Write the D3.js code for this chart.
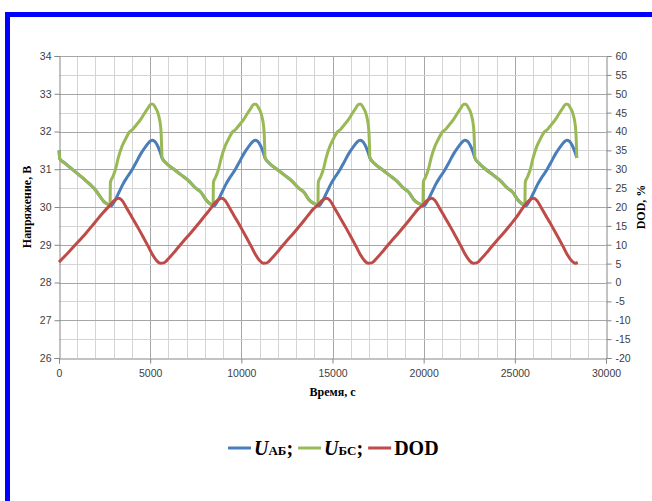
<!DOCTYPE html>
<html>
<head>
<meta charset="utf-8">
<script src="https://cdn.jsdelivr.net/npm/d3@7"></script>
<style>
  body { margin: 0; background: #fff; }
  svg { display: block; }
</style>
</head>
<body>
<div id="chart"></div>
<script>
// Battery voltage / DOD cycling chart

// x ticks (time, s) and the two y ranges
var timeTicks = [0, 5000, 10000, 15000, 20000, 25000, 30000];
var voltTicks = [26, 27, 28, 29, 30, 31, 32, 33, 34];
var dodTicks = [-20, -15, -10, -5, 0, 5, 10, 15, 20, 25, 30, 35, 40, 45, 50, 55, 60];

// U_БС (green) [time, volts]
var uBC = [
  [0, 31.5], [50, 31.27], [300, 31.17], [800, 30.97], [1300, 30.77], [1700, 30.6], [2000, 30.45], [2250, 30.28], [2450, 30.15], [2650, 30.08], [2800, 30.05],
  [2820, 30.65], [2950, 30.8], [3100, 31.0], [3250, 31.3], [3450, 31.6], [3650, 31.8], [3850, 31.98], [4050, 32.06], [4250, 32.18], [4450, 32.3], [4650, 32.45], [4850, 32.6], [5050, 32.72], [5150, 32.72], [5300, 32.62], [5450, 32.45], [5580, 32.1], [5630, 31.6], [5650, 31.3],
  [5900, 31.15], [6300, 31.0], [6700, 30.85], [7100, 30.7], [7500, 30.5], [7800, 30.38], [8050, 30.2], [8250, 30.1], [8450, 30.05],
  [8470, 30.65], [8600, 30.8], [8750, 31.0], [8900, 31.3], [9100, 31.6], [9300, 31.8], [9500, 31.98], [9700, 32.06], [9900, 32.18], [10100, 32.3], [10300, 32.45], [10500, 32.6], [10700, 32.72], [10800, 32.72], [10950, 32.62], [11100, 32.45], [11230, 32.1], [11280, 31.6], [11300, 31.3],
  [11550, 31.15], [11950, 31.0], [12350, 30.85], [12750, 30.7], [13150, 30.5], [13450, 30.38], [13700, 30.2], [13950, 30.1], [14200, 30.05],
  [14220, 30.65], [14350, 30.8], [14500, 31.0], [14650, 31.3], [14850, 31.6], [15050, 31.8], [15250, 31.98], [15450, 32.06], [15650, 32.18], [15850, 32.3], [16050, 32.45], [16250, 32.6], [16450, 32.72], [16550, 32.72], [16700, 32.62], [16850, 32.45], [16980, 32.1], [17030, 31.6], [17050, 31.3],
  [17300, 31.15], [17700, 31.0], [18100, 30.85], [18500, 30.7], [18900, 30.5], [19200, 30.38], [19450, 30.2], [19700, 30.1], [19960, 30.05],
  [19980, 30.65], [20110, 30.8], [20260, 31.0], [20410, 31.3], [20610, 31.6], [20810, 31.8], [21010, 31.98], [21210, 32.06], [21410, 32.18], [21610, 32.3], [21810, 32.45], [22010, 32.6], [22210, 32.72], [22310, 32.72], [22460, 32.62], [22610, 32.45], [22740, 32.1], [22790, 31.6], [22810, 31.3],
  [23050, 31.15], [23400, 31.0], [23800, 30.85], [24200, 30.7], [24600, 30.5], [24900, 30.38], [25150, 30.2], [25350, 30.1], [25550, 30.05],
  [25570, 30.65], [25700, 30.8], [25850, 31.0], [26000, 31.3], [26200, 31.6], [26400, 31.8], [26600, 31.98], [26800, 32.06], [27000, 32.18], [27200, 32.3], [27400, 32.45], [27600, 32.6], [27800, 32.72], [27900, 32.72], [28050, 32.62], [28200, 32.45], [28330, 32.1], [28380, 31.6], [28400, 31.3]
];

// U_АБ (blue) [time, volts]; during discharge it sits under the green line
var uAB = [
  [0, 31.5], [50, 31.27], [300, 31.17], [800, 30.97], [1300, 30.77], [1700, 30.6], [2000, 30.45], [2250, 30.28], [2450, 30.15], [2650, 30.08], [2800, 30.05],
  [2860, 30.03], [2950, 30.08], [3100, 30.2], [3300, 30.4], [3500, 30.6], [3750, 30.8], [4000, 30.98], [4250, 31.2], [4500, 31.42], [4750, 31.6], [4950, 31.72], [5100, 31.77], [5250, 31.74], [5400, 31.63], [5550, 31.45], [5650, 31.3],
  [5900, 31.15], [6300, 31.0], [6700, 30.85], [7100, 30.7], [7500, 30.5], [7800, 30.38], [8050, 30.2], [8250, 30.1], [8450, 30.05],
  [8510, 30.03], [8600, 30.08], [8750, 30.2], [8950, 30.4], [9150, 30.6], [9400, 30.8], [9650, 30.98], [9900, 31.2], [10150, 31.42], [10400, 31.6], [10600, 31.72], [10750, 31.77], [10900, 31.74], [11050, 31.63], [11200, 31.45], [11300, 31.3],
  [11550, 31.15], [11950, 31.0], [12350, 30.85], [12750, 30.7], [13150, 30.5], [13450, 30.38], [13700, 30.2], [13950, 30.1], [14200, 30.05],
  [14260, 30.03], [14350, 30.08], [14500, 30.2], [14700, 30.4], [14900, 30.6], [15150, 30.8], [15400, 30.98], [15650, 31.2], [15900, 31.42], [16150, 31.6], [16350, 31.72], [16500, 31.77], [16650, 31.74], [16800, 31.63], [16950, 31.45], [17050, 31.3],
  [17300, 31.15], [17700, 31.0], [18100, 30.85], [18500, 30.7], [18900, 30.5], [19200, 30.38], [19450, 30.2], [19700, 30.1], [19960, 30.05],
  [20020, 30.03], [20110, 30.08], [20260, 30.2], [20460, 30.4], [20660, 30.6], [20910, 30.8], [21160, 30.98], [21410, 31.2], [21660, 31.42], [21910, 31.6], [22110, 31.72], [22260, 31.77], [22410, 31.74], [22560, 31.63], [22710, 31.45], [22810, 31.3],
  [23050, 31.15], [23400, 31.0], [23800, 30.85], [24200, 30.7], [24600, 30.5], [24900, 30.38], [25150, 30.2], [25350, 30.1], [25550, 30.05],
  [25610, 30.03], [25700, 30.08], [25850, 30.2], [26050, 30.4], [26250, 30.6], [26500, 30.8], [26750, 30.98], [27000, 31.2], [27250, 31.42], [27500, 31.6], [27700, 31.72], [27850, 31.77], [28000, 31.74], [28150, 31.63], [28300, 31.45], [28400, 31.3]
];

// DOD (red) [time, %]
var dod = [
  [0, 5.4], [500, 7.9], [1000, 10.5], [1500, 13.2], [2000, 16.1], [2400, 18.4], [2800, 20.5],
  [3050, 21.8], [3250, 22.3], [3450, 21.8], [3700, 19.8], [4000, 17.3], [4300, 14.8], [4600, 12.2], [4900, 9.5], [5150, 7.2], [5350, 5.8], [5550, 5.1], [5750, 5.2], [6000, 6.3], [6400, 8.5], [6800, 10.8], [7200, 13.0], [7600, 15.3], [8000, 17.7], [8300, 19.5], [8450, 20.5],
  [8700, 21.8], [8900, 22.3], [9100, 21.8], [9350, 19.8], [9650, 17.3], [9950, 14.8], [10250, 12.2], [10550, 9.5], [10800, 7.2], [11000, 5.8], [11200, 5.1], [11400, 5.2], [11650, 6.3], [12050, 8.5], [12450, 10.8], [12850, 13.0], [13250, 15.3], [13650, 17.7], [13950, 19.5], [14200, 20.5],
  [14450, 21.8], [14650, 22.3], [14850, 21.8], [15100, 19.8], [15400, 17.3], [15700, 14.8], [16000, 12.2], [16300, 9.5], [16550, 7.2], [16750, 5.8], [16950, 5.1], [17150, 5.2], [17400, 6.3], [17800, 8.5], [18200, 10.8], [18600, 13.0], [19000, 15.3], [19400, 17.7], [19700, 19.5], [19960, 20.5],
  [20210, 21.8], [20410, 22.3], [20610, 21.8], [20860, 19.8], [21160, 17.3], [21460, 14.8], [21760, 12.2], [22060, 9.5], [22310, 7.2], [22510, 5.8], [22710, 5.1], [22910, 5.2], [23160, 6.3], [23560, 8.5], [23960, 10.8], [24360, 13.0], [24760, 15.3], [25150, 17.7], [25400, 19.5], [25550, 20.5],
  [25800, 21.8], [26000, 22.3], [26200, 21.8], [26450, 19.8], [26750, 17.3], [27050, 14.8], [27350, 12.2], [27650, 9.5], [27900, 7.2], [28100, 5.8], [28300, 5.1], [28450, 5.3]
];

var colors = { ab: "#4a7ebb", bc: "#98b954", dod: "#be4b48" };

var W = 652, H = 501;
var plotL = 59, plotR = 606, plotT = 56, plotB = 358;

var svg = d3.select("#chart").append("svg")
  .attr("width", W)
  .attr("height", H);

// blue frame (top and left edges only show in the picture)
svg.append("rect").attr("x", 5).attr("y", 12).attr("width", W).attr("height", 5).attr("fill", "#0000ff");
svg.append("rect").attr("x", 5).attr("y", 12).attr("width", 5).attr("height", H).attr("fill", "#0000ff");

var x = d3.scaleLinear().domain([0, 30000]).range([plotL, plotR]);
var y = d3.scaleLinear().domain([26, 34]).range([plotB, plotT]);
var y2 = d3.scaleLinear().domain([-20, 60]).range([plotB, plotT]);

// grid: minor every 1000 s / 0.5 V, major every 5000 s / 1 V
var grid = svg.append("g");
grid.selectAll(".vgrid")
  .data(d3.range(1000, 30000, 1000))
  .enter().append("line")
    .attr("x1", function(d) { return Math.round(x(d)) + 0.5; })
    .attr("x2", function(d) { return Math.round(x(d)) + 0.5; })
    .attr("y1", plotT).attr("y2", plotB)
    .attr("stroke", function(d) { return d % 5000 === 0 ? "#a6a6a6" : "#d4d4d4"; });
grid.selectAll(".hgrid")
  .data(d3.range(26.5, 34.01, 0.5))
  .enter().append("line")
    .attr("x1", plotL).attr("x2", plotR)
    .attr("y1", function(d) { return Math.round(y(d)) + 0.5; })
    .attr("y2", function(d) { return Math.round(y(d)) + 0.5; })
    .attr("stroke", function(d) { return d % 1 === 0 ? "#a6a6a6" : "#d4d4d4"; });

// axes (plain hyphen for negatives, like the original)
var tickFont = "'Liberation Sans', Arial, sans-serif";
var axisColor = "#868686";
var plain = function(d) { return String(d); };

var xAxis = svg.append("g")
  .attr("transform", "translate(0," + (plotB + 0.5) + ")")
  .call(d3.axisBottom(x).tickValues(timeTicks).tickSize(5).tickPadding(6).tickFormat(plain));
var yAxis = svg.append("g")
  .attr("transform", "translate(" + (plotL + 0.5) + ",0)")
  .call(d3.axisLeft(y).tickValues(voltTicks).tickSize(5).tickPadding(3).tickFormat(plain));
var y2Axis = svg.append("g")
  .attr("transform", "translate(" + (plotR + 0.5) + ",0)")
  .call(d3.axisRight(y2).tickValues(dodTicks).tickSize(5).tickPadding(4).tickFormat(plain));

[xAxis, yAxis, y2Axis].forEach(function(a) {
  a.select(".domain").attr("stroke", axisColor);
  a.selectAll(".tick line").attr("stroke", axisColor);
  a.selectAll(".tick text")
    .attr("fill", "#404040")
    .style("font-family", tickFont)
    .style("font-size", "10.5px");
});

// lines
var lineV = d3.line()
  .x(function(d) { return x(d[0]); })
  .y(function(d) { return y(d[1]); })
  .curve(d3.curveMonotoneX);
var lineD = d3.line()
  .x(function(d) { return x(d[0]); })
  .y(function(d) { return y2(d[1]); })
  .curve(d3.curveMonotoneX);

svg.append("path").datum(uAB).attr("d", lineV)
  .attr("fill", "none").attr("stroke", colors.ab).attr("stroke-width", 3).attr("stroke-linejoin", "round");
svg.append("path").datum(uBC).attr("d", lineV)
  .attr("fill", "none").attr("stroke", colors.bc).attr("stroke-width", 3).attr("stroke-linejoin", "round");
svg.append("path").datum(dod).attr("d", lineD)
  .attr("fill", "none").attr("stroke", colors.dod).attr("stroke-width", 3).attr("stroke-linejoin", "round");

// axis titles
var serif = "'Liberation Serif', 'Times New Roman', serif";
svg.append("text")
  .attr("transform", "translate(31," + ((plotT + plotB) / 2) + ") rotate(-90)")
  .attr("text-anchor", "middle")
  .style("font-family", serif).style("font-weight", "bold").style("font-size", "12px")
  .text("Напряжение, В");
svg.append("text")
  .attr("transform", "translate(645," + ((plotT + plotB) / 2) + ") rotate(-90)")
  .attr("text-anchor", "middle")
  .style("font-family", serif).style("font-weight", "bold").style("font-size", "12px")
  .text("DOD, %");
svg.append("text")
  .attr("x", (plotL + plotR) / 2).attr("y", 396)
  .attr("text-anchor", "middle")
  .style("font-family", serif).style("font-weight", "bold").style("font-size", "12px")
  .text("Время, с");

// legend
var legend = svg.append("g").attr("transform", "translate(228,448)");
var items = [
  { c: colors.ab, sub: "АБ", tail: ";" },
  { c: colors.bc, sub: "БС", tail: ";" },
  { c: colors.dod, main: "DOD" }
];
var lx = 0;
items.forEach(function(it) {
  legend.append("line")
    .attr("x1", lx).attr("x2", lx + 23).attr("y1", 0).attr("y2", 0)
    .attr("stroke", it.c).attr("stroke-width", 3);
  lx += 26;
  var t = legend.append("text")
    .attr("x", lx).attr("y", 7)
    .style("font-family", serif).style("font-weight", "bold").style("font-size", "20px");
  if (it.main) {
    t.text(it.main);
  } else {
    t.append("tspan").style("font-style", "italic").text("U");
    t.append("tspan").style("font-size", "13px").text(it.sub);
    t.append("tspan").text(it.tail);
  }
  lx += t.node().getComputedTextLength() + 5;
});
</script>
</body>
</html>
